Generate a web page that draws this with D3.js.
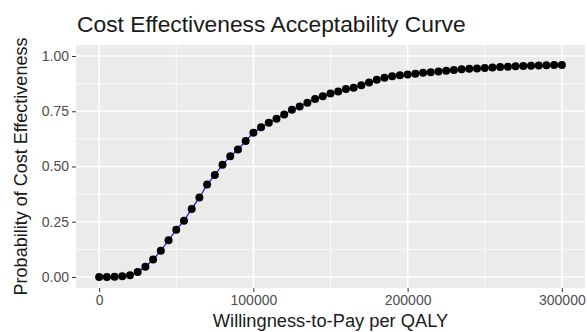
<!DOCTYPE html>
<html><head><meta charset="utf-8">
<script src="https://cdn.jsdelivr.net/npm/d3@7"></script>
<style>body{margin:0;background:#fff}svg{display:block}text{font-family:"Liberation Sans",Arial,sans-serif}</style>
</head><body><svg id="c" width="587" height="332"></svg>
<script>
const wtp = d3.range(0, 300001, 5000);
const prob = [0.000,0.000,0.001,0.003,0.008,0.022,0.046,0.079,0.119,0.166,
0.214,0.254,0.308,0.360,0.418,0.461,0.508,0.546,0.577,0.615,
0.653,0.678,0.698,0.716,0.735,0.757,0.772,0.789,0.805,0.818,
0.830,0.840,0.851,0.857,0.868,0.880,0.893,0.902,0.908,0.913,
0.917,0.920,0.924,0.927,0.930,0.934,0.937,0.940,0.942,0.944,
0.946,0.948,0.950,0.952,0.954,0.955,0.956,0.957,0.958,0.959,0.960];
const xTicks = [0, 100000, 200000, 300000];
const xMinor = [50000, 150000, 250000];
const yTicks = [0, 0.25, 0.5, 0.75, 1.0];
const yMinor = [0.125, 0.375, 0.625, 0.875];
const title = "Cost Effectiveness Acceptability Curve";
const xTitle = "Willingness-to-Pay per QALY";
const yTitle = "Probability of Cost Effectiveness";

const data = wtp.map((w,i)=>({w, p:prob[i]}));
const svg = d3.select("#c");
const L=76, R=585, T=45, B=288;
const x = d3.scaleLinear().domain([-15000,315000]).range([L,R]);
const y = d3.scaleLinear().domain([-0.05,1.05]).range([B,T]);

svg.append("rect").attr("x",L).attr("y",T).attr("width",R-L).attr("height",B-T).attr("fill","#EBEBEB");
const g = svg.append("g");
g.selectAll(".xm").data(xMinor).join("line").attr("x1",d=>x(d)).attr("x2",d=>x(d)).attr("y1",T).attr("y2",B).attr("stroke","#fff").attr("stroke-width",0.8);
g.selectAll(".ym").data(yMinor).join("line").attr("y1",d=>y(d)).attr("y2",d=>y(d)).attr("x1",L).attr("x2",R).attr("stroke","#fff").attr("stroke-width",0.8);
g.selectAll(".xM").data(xTicks).join("line").attr("x1",d=>x(d)).attr("x2",d=>x(d)).attr("y1",T).attr("y2",B).attr("stroke","#fff").attr("stroke-width",1.6);
g.selectAll(".yM").data(yTicks).join("line").attr("y1",d=>y(d)).attr("y2",d=>y(d)).attr("x1",L).attr("x2",R).attr("stroke","#fff").attr("stroke-width",1.6);

const xAxis = svg.append("g").attr("transform",`translate(0,${B})`)
  .call(d3.axisBottom(x).tickValues(xTicks).tickFormat(d3.format("d")).tickSize(4).tickPadding(3));
const yAxis = svg.append("g").attr("transform",`translate(${L},0)`)
  .call(d3.axisLeft(y).tickValues(yTicks).tickFormat(d3.format(".2f")).tickSize(4).tickPadding(3));
[xAxis,yAxis].forEach(a=>{
  a.select(".domain").remove();
  a.selectAll(".tick line").attr("stroke","#333").attr("stroke-width",1);
  a.selectAll(".tick text").attr("fill","#4D4D4D").style("font-size","14px");
});

svg.append("path").datum(data)
  .attr("d", d3.line().x(d=>x(d.w)).y(d=>y(d.p)))
  .attr("fill","none").attr("stroke","#0000FF").attr("stroke-width",1.1);
svg.selectAll(".pt").data(data).join("circle")
  .attr("cx",d=>x(d.w)).attr("cy",d=>y(d.p)).attr("r",4).attr("fill","#000");

svg.append("text").attr("x",L+1).attr("y",32).text(title).style("font-size","22.8px").attr("fill","#1a1a1a");
svg.append("text").attr("x",(L+R)/2).attr("y",327).attr("text-anchor","middle").text(xTitle).style("font-size","18.3px").attr("fill","#1a1a1a");
svg.append("text").attr("transform",`translate(27,${(T+B)/2}) rotate(-90)`).attr("text-anchor","middle").text(yTitle).style("font-size","18px").attr("fill","#1a1a1a");
</script></body></html>
